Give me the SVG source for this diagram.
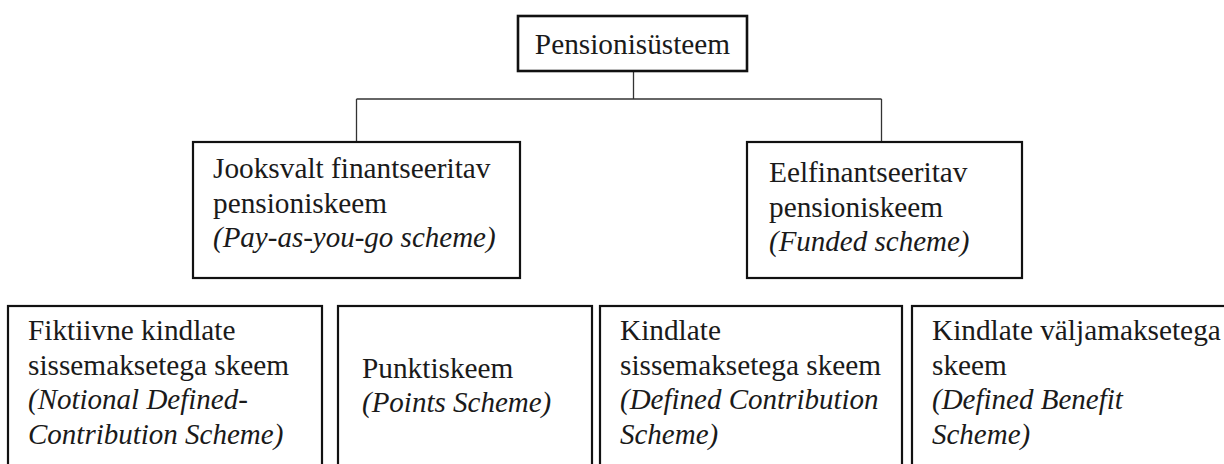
<svg xmlns="http://www.w3.org/2000/svg" width="1224" height="464" viewBox="0 0 1224 464">
<style>
.box{fill:#fff;stroke:#111;stroke-width:2.2}
.top{fill:#fff;stroke:#111;stroke-width:2.6}
.t{font-family:"Liberation Serif","Times New Roman",serif;font-size:29.3px;fill:#1a1a1a}
.i{font-style:italic;font-size:29px}
.c{fill:none;stroke:#333;stroke-width:1.3}
</style>
<rect width="1224" height="464" fill="#fff"/>
<g id="connectors">
<line class="c" x1="633.5" y1="71" x2="633.5" y2="99"/>
<line class="c" x1="356.5" y1="99" x2="881.5" y2="99"/>
<line class="c" x1="356.5" y1="99" x2="356.5" y2="142"/>
<line class="c" x1="881.5" y1="99" x2="881.5" y2="142"/>
</g>
<g id="node-root">
<rect class="top" x="518" y="16" width="229" height="55"/>
<text class="t" x="632.5" y="54" text-anchor="middle">Pensionisüsteem</text>
</g>
<g id="node-paygo">
<rect class="box" x="193" y="142" width="327" height="136"/>
<text class="t" x="213" y="178">Jooksvalt finantseeritav</text>
<text class="t" x="213" y="212.5">pensioniskeem</text>
<text class="t i" x="213" y="247">(Pay-as-you-go scheme)</text>
</g>
<g id="node-funded">
<rect class="box" x="747" y="142" width="275" height="136"/>
<text class="t" x="769" y="182">Eelfinantseeritav</text>
<text class="t" x="769" y="216.5">pensioniskeem</text>
<text class="t i" x="769" y="251">(Funded scheme)</text>
</g>
<g id="node-ndc">
<rect class="box" x="8" y="306" width="314" height="170"/>
<text class="t" x="28" y="340">Fiktiivne kindlate</text>
<text class="t" x="28" y="374.5">sissemaksetega skeem</text>
<text class="t i" x="28" y="409">(Notional Defined-</text>
<text class="t i" x="28" y="443.5">Contribution Scheme)</text>
</g>
<g id="node-points">
<rect class="box" x="338" y="306" width="254" height="170"/>
<text class="t" x="362" y="377.5">Punktiskeem</text>
<text class="t i" x="362" y="412">(Points Scheme)</text>
</g>
<g id="node-dc">
<rect class="box" x="600" y="306" width="302" height="170"/>
<text class="t" x="620" y="340">Kindlate</text>
<text class="t" x="620" y="374.5">sissemaksetega skeem</text>
<text class="t i" x="620" y="409">(Defined Contribution</text>
<text class="t i" x="620" y="443.5">Scheme)</text>
</g>
<g id="node-db">
<rect class="box" x="912" y="306" width="330" height="170"/>
<text class="t" x="932" y="340">Kindlate väljamaksetega</text>
<text class="t" x="932" y="374.5">skeem</text>
<text class="t i" x="932" y="409">(Defined Benefit</text>
<text class="t i" x="932" y="443.5">Scheme)</text>
</g>
</svg>
